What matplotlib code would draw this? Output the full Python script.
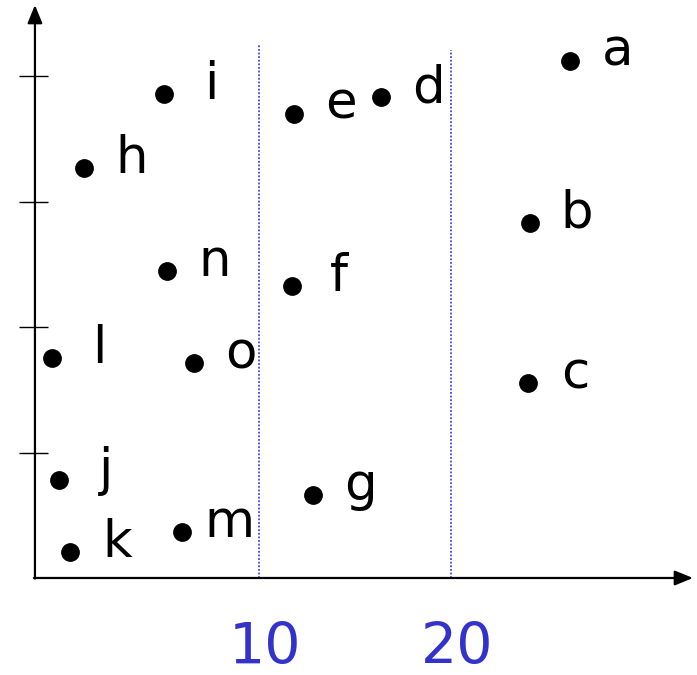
import matplotlib
matplotlib.use("Agg")
import matplotlib.pyplot as plt

# data
labels = ["a", "b", "c", "d", "e", "f", "g", "h", "i", "j", "k", "l", "m", "n", "o"]
xs = [26.2, 24.1, 24.0, 16.35, 11.8, 11.7, 12.8, 0.89, 5.05, -0.42, 0.16, -0.78, 5.99, 5.21, 6.61]
ys = [4.12, 2.83, 1.55, 3.83, 3.70, 2.33, 0.66, 3.27, 3.86, 0.78, 0.21, 1.75, 0.37, 2.45, 1.71]
xtick_vals = [10, 20]
xtick_labels = ["10", "20"]
vline_tops = [4.255, 4.21]
ytick_vals = [1, 2, 3, 4]

fig = plt.figure(figsize=(6.97, 6.75), dpi=100)
ax = fig.add_axes([0, 0, 1, 1])
ax.set_xlim(-3.49, 32.81)
ax.set_ylim(-0.773, 4.606)
ax.set_axis_off()

x0, y0 = -1.67, 0.0
# axes with arrows
ax.annotate("", xy=(32.6, y0), xytext=(x0 - 0.05, y0),
            arrowprops=dict(arrowstyle="-|>,head_length=1.1,head_width=0.45",
                            color="black", lw=1.6, shrinkA=0, shrinkB=0))
ax.annotate("", xy=(x0, 4.566), xytext=(x0, y0 - 0.005),
            arrowprops=dict(arrowstyle="-|>,head_length=1.1,head_width=0.45",
                            color="black", lw=1.6, shrinkA=0, shrinkB=0))
# y tick marks
ax.hlines(ytick_vals, -2.5, -0.99, color="black", lw=1.0)

# dotted vertical lines
for xv, top in zip(xtick_vals, vline_tops):
    ax.vlines(xv, y0, top, color="#4444e6", lw=1.3, linestyles=(0, (1, 1.0)))

# points
ax.plot(xs, ys, "o", color="black", markersize=12.5, linestyle="none")
for lab, x, y in zip(labels, xs, ys):
    ax.annotate(lab, (x, y), xytext=(34, -3.6), textcoords="offset points",
                ha="center", va="baseline", fontsize=37, color="black",
                family="DejaVu Sans")

# x tick labels below the axis
for xv, lab in zip(xtick_vals, xtick_labels):
    ax.annotate(lab, (xv, y0), xytext=(6, -86), textcoords="offset pixels",
                ha="center", va="baseline", fontsize=41, color="#3333cc")

fig.savefig("out.png", dpi=100)
